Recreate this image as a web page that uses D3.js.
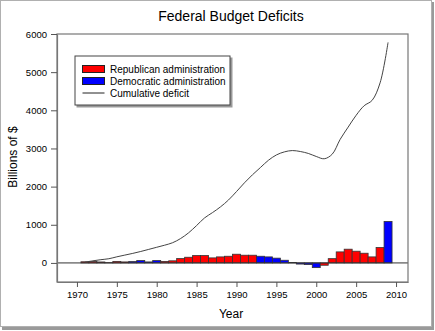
<!DOCTYPE html>
<html>
<head>
<meta charset="utf-8">
<script src="https://cdn.jsdelivr.net/npm/d3@7"></script>
<style>
    body { margin: 0; background: #fff; }
    text { font-family: Arial, "Liberation Sans", sans-serif; fill: #000; }
</style>
</head>
<body>
<div id="chart"></div>
<script>
// yearly deficit, billions of $ (fiscal years 1971-2009)
var years = d3.range(1971, 2010);
var deficits = [30, 35, 25, 8, 40, 26, 35, 61, 26, 61, 40, 55, 114, 149, 193, 193, 132, 158, 175, 228,
    202, 202, 175, 158, 125, 70, 12, -30, -44, -123, -61, 112, 289, 360, 307, 254, 158, 404, 1088];
// party in the White House for each year: R / D
var party = ["R", "R", "R", "R", "R", "R", "D", "D", "D", "D", "R", "R", "R", "R", "R", "R", "R", "R", "R", "R",
    "R", "R", "D", "D", "D", "D", "D", "D", "D", "D", "R", "R", "R", "R", "R", "R", "R", "R", "D"];
// running total
var cumulative = [20, 55, 85, 110, 160, 205, 250, 300, 355, 410, 465, 530, 640, 790, 980, 1180, 1320, 1470, 1650, 1870,
    2100, 2310, 2500, 2690, 2830, 2910, 2945, 2920, 2870, 2790, 2730, 2850, 3240, 3560, 3870, 4120, 4260, 4720, 5780];

var xTicks = [1970, 1975, 1980, 1985, 1990, 1995, 2000, 2005, 2010];
var yTicks = [0, 1000, 2000, 3000, 4000, 5000, 6000];
var legendItems = ["Republican administration", "Democratic administration", "Cumulative deficit"];

var colors = { R: "#ff0000", D: "#0000ff" };

var width = 435, height = 331;

var svg = d3.select("#chart")
    .append("svg")
    .attr("width", width)
    .attr("height", height);

// picture border with drop shadow
svg.append("rect")
    .attr("x", 2).attr("y", 2)
    .attr("width", 432).attr("height", 328)
    .attr("fill", "#9a9a9a");
svg.append("rect")
    .attr("x", 0.5).attr("y", 0.5)
    .attr("width", 431).attr("height", 326)
    .attr("fill", "#fff")
    .attr("stroke", "#b0b0b0");

var x = d3.scaleLinear().domain([1967.5, 2011.5]).range([57, 408]);
var y = d3.scaleLinear().domain([-500, 6000]).range([282, 34]);
var bw = x(1) - x(0);

// title
svg.append("text")
    .attr("x", 231).attr("y", 21)
    .attr("text-anchor", "middle")
    .attr("font-size", "14px")
    .text("Federal Budget Deficits");

// bars
svg.append("g")
    .selectAll("rect")
    .data(years)
    .enter()
    .append("rect")
    .attr("x", (d, i) => x(d) - bw / 2)
    .attr("y", (d, i) => y(Math.max(0, deficits[i])))
    .attr("width", bw)
    .attr("height", (d, i) => Math.abs(y(deficits[i]) - y(0)))
    .attr("fill", (d, i) => colors[party[i]])
    .attr("stroke", "#333")
    .attr("stroke-width", 0.8);

// zero line
svg.append("line")
    .attr("x1", x.range()[0]).attr("x2", x.range()[1])
    .attr("y1", y(0)).attr("y2", y(0))
    .attr("stroke", "#333")
    .attr("stroke-width", 1);

// cumulative deficit
var line = d3.line()
    .x((d, i) => x(years[i]))
    .y(d => y(d))
    .curve(d3.curveCatmullRom.alpha(0.5));

svg.append("path")
    .datum(cumulative)
    .attr("d", line)
    .attr("fill", "none")
    .attr("stroke", "#444")
    .attr("stroke-width", 1);

// frame
svg.append("rect")
    .attr("x", x.range()[0]).attr("y", y.range()[1])
    .attr("width", x.range()[1] - x.range()[0])
    .attr("height", y.range()[0] - y.range()[1])
    .attr("fill", "none")
    .attr("stroke", "#777")
    .attr("stroke-width", 1.2);

// axes
var xAxis = svg.append("g")
    .attr("transform", "translate(0," + y.range()[0] + ")")
    .call(d3.axisBottom(x).tickValues(xTicks).tickFormat(d3.format("d"))
        .tickSizeInner(5).tickSizeOuter(0).tickPadding(4));

var yAxis = svg.append("g")
    .attr("transform", "translate(" + x.range()[0] + ",0)")
    .call(d3.axisLeft(y).tickValues(yTicks).tickFormat(d3.format("d"))
        .tickSizeInner(6).tickSizeOuter(0).tickPadding(4));

[xAxis, yAxis].forEach(function(a) {
    a.select(".domain").attr("stroke", "#777").attr("stroke-width", 1.2);
    a.selectAll(".tick line").attr("stroke", "#555");
    a.selectAll(".tick text")
        .attr("font-family", "Arial, 'Liberation Sans', sans-serif")
        .attr("font-size", "9.5px")
        .attr("fill", "#000");
});

// axis titles
svg.append("text")
    .attr("x", 231).attr("y", 318)
    .attr("text-anchor", "middle")
    .attr("font-size", "12px")
    .text("Year");

svg.append("text")
    .attr("transform", "translate(17,157) rotate(-90)")
    .attr("text-anchor", "middle")
    .attr("font-size", "12px")
    .text("Billions of $");

// legend
var legend = svg.append("g").attr("transform", "translate(75,56)");

legend.append("rect")
    .attr("x", 1.5).attr("y", 1.5)
    .attr("width", 156).attr("height", 50)
    .attr("fill", "#999");
legend.append("rect")
    .attr("x", 0).attr("y", 0)
    .attr("width", 155).attr("height", 49)
    .attr("fill", "#fff")
    .attr("stroke", "#444")
    .attr("stroke-width", 1);

legendItems.forEach(function(label, i) {
    var cy = 13 + i * 12;
    if (i < 2) {
        legend.append("rect")
            .attr("x", 7.5).attr("y", cy - 3.5)
            .attr("width", 22).attr("height", 7)
            .attr("fill", i == 0 ? colors.R : colors.D)
            .attr("stroke", "#222");
    } else {
        legend.append("line")
            .attr("x1", 7.5).attr("x2", 29.5)
            .attr("y1", cy).attr("y2", cy)
            .attr("stroke", "#222");
    }
    legend.append("text")
        .attr("x", 35).attr("y", cy + 3.5)
        .attr("font-size", "10px")
        .text(label);
});
</script>
</body>
</html>
